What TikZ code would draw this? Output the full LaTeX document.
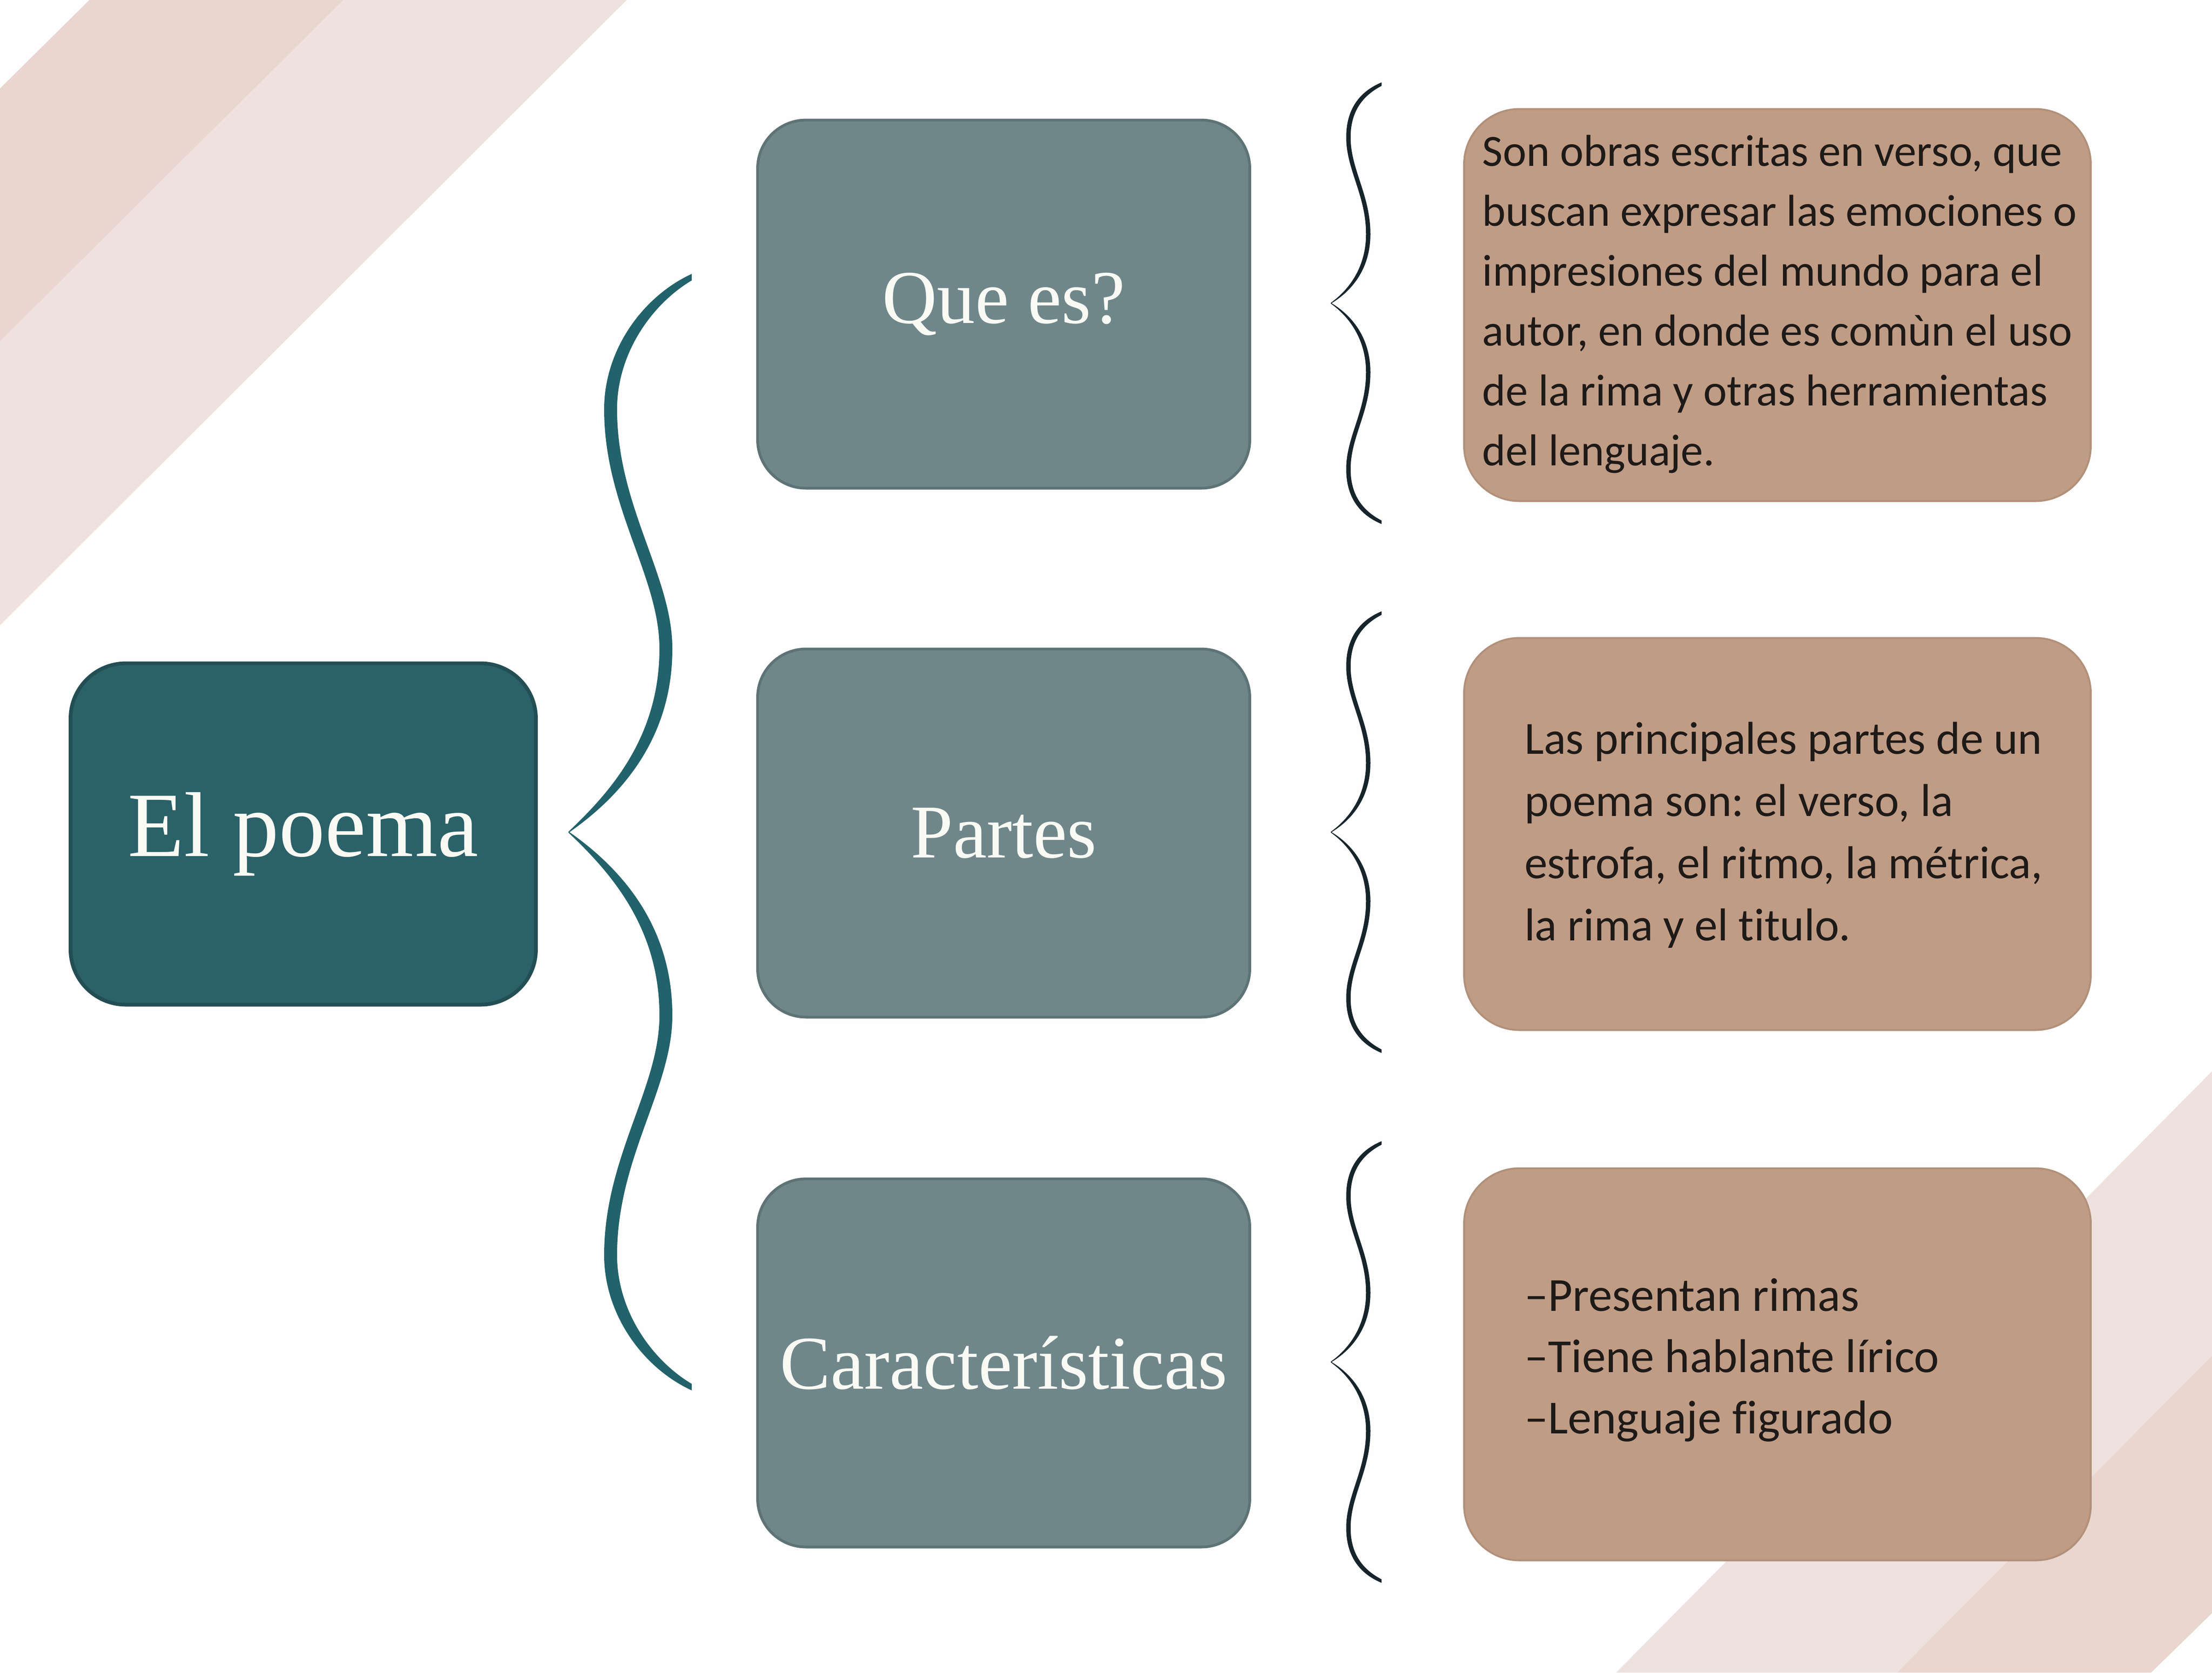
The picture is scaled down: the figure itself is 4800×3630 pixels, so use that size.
\documentclass[tikz,border=0pt]{standalone}
\usepackage{fontspec}
\setmainfont{Liberation Serif}
\newfontfamily\bodyfont{Carlito}[Ligatures={NoCommon}]
\frenchspacing
\definecolor{bgc}{HTML}{FEFEFE}
\definecolor{stripeA}{HTML}{E8D6CF}
\definecolor{stripeB}{HTML}{EFE2DE}
\definecolor{rootc}{HTML}{2B6169}
\definecolor{midc}{HTML}{6F878B}
\definecolor{infoc}{HTML}{C09C85}
\definecolor{bracec}{HTML}{22626A}
\definecolor{smallbrace}{HTML}{16242C}
\definecolor{textc}{HTML}{1E1A18}
\definecolor{titlec}{HTML}{FAFAF4}
\begin{document}
\begin{tikzpicture}[x=0.1pt,y=-0.1pt,
  rootbox/.style={rounded corners=12pt, fill=rootc, draw=rootc!80!black, line width=0.8pt,
    minimum width=101pt, minimum height=74.1pt, inner sep=0pt,
    text=titlec, font=\fontsize{20}{24}\selectfont},
  midbox/.style={rounded corners=10.5pt, fill=midc, draw=midc!85!black, line width=0.6pt,
    minimum width=106.8pt, minimum height=79.9pt, inner sep=0pt,
    text=titlec, font=\fontsize{16.5}{20}\selectfont},
  infobox/.style={rounded corners=12pt, fill=infoc, draw=infoc!92!black, line width=0.4pt,
    minimum width=136pt, minimum height=85.1pt, inner sep=0pt},
  infotext/.style={align=left, inner sep=0pt, text=textc},
  bigbrace/.style={fill=bracec, draw=bracec, line width=0.2pt},
  thinbrace/.style={fill=smallbrace, draw=smallbrace, line width=0.15pt}
]
% background and bounding box
\fill[bgc] (0,0) rectangle (4800,3630);
\useasboundingbox (0,0) rectangle (4800,3630);

% decorative stripes
\fill[stripeA] (194,0) -- (745,0) -- (0,741) -- (0,192) -- cycle;
\fill[stripeB] (745,0) -- (1360,0) -- (0,1357) -- (0,741) -- cycle;
\fill[stripeB] (4800,2325) -- (4800,2942) -- (4117,3630) -- (3507,3630) -- cycle;
\fill[stripeA] (4800,2942) -- (4800,3501) -- (4668,3630) -- (4117,3630) -- cycle;

% boxes
\node[rootbox] (root) at (658,1810) {El poema};
\node[midbox] (q) at (2178,660) {Que es?};
\node[midbox] (p) at (2178,1808) {Partes};
\node[midbox] (c) at (2178,2958) {Características};
\node[infobox] (iq) at (3857,662) {};
\node[infobox] (ip) at (3857,1810) {};
\node[infobox] (ic) at (3857,2961) {};

% texts in info boxes
\node[infotext, font=\bodyfont\fontsize{9.7}{13}\selectfont] (tq) at (3862,660)
  {Son obras escritas en verso, que\\
   buscan expresar las emociones o\\
   impresiones del mundo para el\\
   autor, en donde es comùn el uso\\
   de la rima y otras herramientas\\
   del lenguaje.};
\node[infotext, anchor=west, font=\bodyfont\fontsize{10}{13.5}\selectfont] (tp) at (3306,1812)
  {Las principales partes de un\\
   poema son: el verso, la\\
   estrofa, el ritmo, la métrica,\\
   la rima y el titulo.};
\node[infotext, anchor=west, font=\bodyfont\fontsize{10.3}{13.3}\selectfont] (tc) at (3306,2952)
  {–Presentan rimas\\
   –Tiene hablante lírico\\
   –Lenguaje figurado};

% big teal brace
\fill[bigbrace] (1500,596) .. controls (1395,645) and (1312,760) .. (1312,888)
  .. controls (1312,1100) and (1432,1250) .. (1432,1408)
  .. controls (1432,1600) and (1325,1720) .. (1234,1806)
  .. controls (1350,1725) and (1458,1600) .. (1458,1408)
  .. controls (1458,1250) and (1338,1100) .. (1338,888)
  .. controls (1338,770) and (1410,662) .. (1500,608) -- cycle;
\fill[bigbrace] (1500,3016) .. controls (1395,2967) and (1312,2852) .. (1312,2724)
  .. controls (1312,2512) and (1432,2362) .. (1432,2204)
  .. controls (1432,2012) and (1325,1892) .. (1234,1806)
  .. controls (1350,1887) and (1458,2012) .. (1458,2204)
  .. controls (1458,2362) and (1338,2512) .. (1338,2724)
  .. controls (1338,2842) and (1410,2950) .. (1500,3004) -- cycle;

% thin braces
\foreach \cy in {658,1806,2956} {
  \fill[thinbrace] (2997,\cy-478) .. controls (2950,\cy-458) and (2922,\cy-420) .. (2922,\cy-360)
    .. controls (2922,\cy-290) and (2965,\cy-235) .. (2965,\cy-150)
    .. controls (2965,\cy-80) and (2930,\cy-30) .. (2888,\cy)
    .. controls (2938,\cy-30) and (2973,\cy-80) .. (2973,\cy-150)
    .. controls (2973,\cy-235) and (2930,\cy-290) .. (2930,\cy-360)
    .. controls (2930,\cy-415) and (2955,\cy-450) .. (2997,\cy-472) -- cycle;
  \fill[thinbrace] (2997,\cy+478) .. controls (2950,\cy+458) and (2922,\cy+420) .. (2922,\cy+360)
    .. controls (2922,\cy+290) and (2965,\cy+235) .. (2965,\cy+150)
    .. controls (2965,\cy+80) and (2930,\cy+30) .. (2888,\cy)
    .. controls (2938,\cy+30) and (2973,\cy+80) .. (2973,\cy+150)
    .. controls (2973,\cy+235) and (2930,\cy+290) .. (2930,\cy+360)
    .. controls (2930,\cy+415) and (2955,\cy+450) .. (2997,\cy+472) -- cycle;
}
\end{tikzpicture}
\end{document}
